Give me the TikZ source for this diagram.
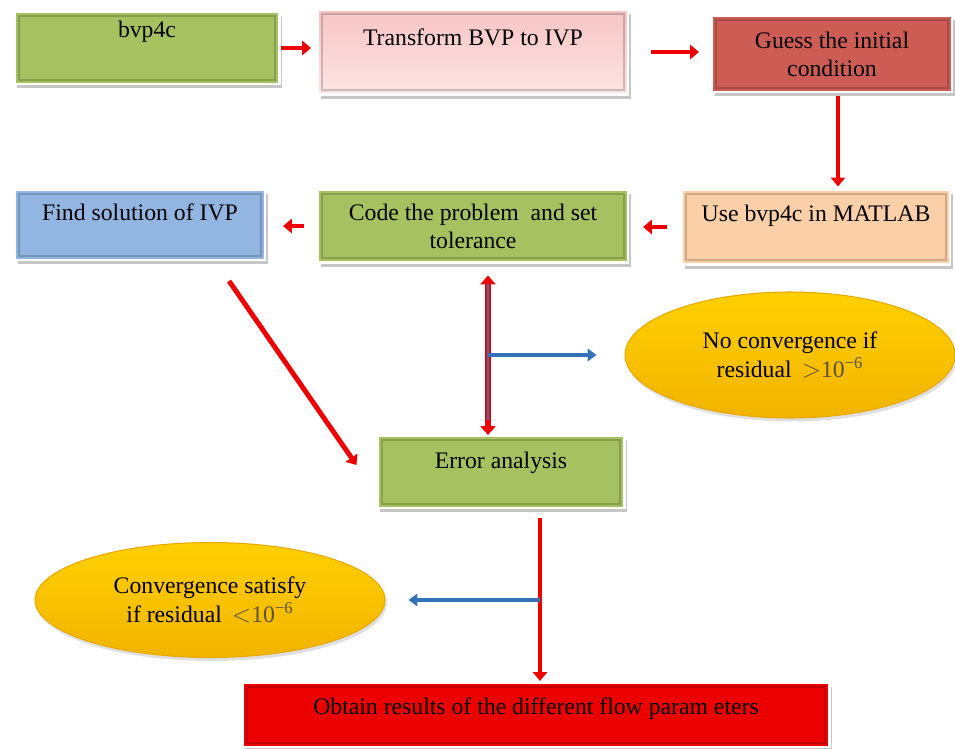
\documentclass[tikz,border=0pt]{standalone}
\usepackage{fontspec}
\setmainfont{Liberation Serif}
\usepackage{xcolor}
\usetikzlibrary{calc,
	positioning,
	shapes,
	shadows,
	arrows.meta}

\definecolor{boxgreen}{RGB}{166,193,96}
\definecolor{pinktop}{RGB}{247,196,196}
\definecolor{pinkbottom}{RGB}{253,228,228}
\definecolor{guessred}{RGB}{205,92,85}
\definecolor{peach}{RGB}{251,207,168}
\definecolor{boxblue}{RGB}{146,181,226}
\definecolor{resultred}{RGB}{236,0,0}
\definecolor{goldtop}{RGB}{255,208,0}
\definecolor{goldbottom}{RGB}{242,180,0}
\definecolor{goldedge}{RGB}{232,168,0}
\definecolor{arrowred}{RGB}{238,0,0}
\definecolor{arrowblue}{RGB}{52,113,184}
\definecolor{powgray}{RGB}{90,80,60}

\begin{document}
\begin{tikzpicture}[x=0.02cm, y=-0.02cm,
	box/.style={rectangle, draw=white, line width=1.2pt,
		font=\fontsize{13.5}{16}\selectfont,
		drop shadow={opacity=0.45, shadow xshift=1.5pt, shadow yshift=-2.5pt},
		path picture={\draw[black, opacity=0.18, line width=1.2pt]
			([shift={(2.5pt,-2.5pt)}]path picture bounding box.north west) rectangle
			([shift={(-2.5pt,2.5pt)}]path picture bounding box.south east);}},
	oneline/.style={text height=9pt, text depth=#1},
	oval/.style={ellipse, draw=goldedge, line width=0.6pt, align=center,
		top color=goldtop, bottom color=goldbottom,
		font=\fontsize{13.5}{17}\selectfont,
		drop shadow={opacity=0.25, shadow xshift=1pt, shadow yshift=-2pt}},
	redarrow/.style={draw=arrowred, line width=2.8pt, -{Triangle[width=8pt,length=5pt]}},
	bluearrow/.style={draw=arrowblue, line width=2.6pt, -{Triangle[width=7pt,length=5pt]}}]
	\useasboundingbox (0,0) rectangle (955,749);
	% first row
	\node[box, oneline=20.5pt, fill=boxgreen, minimum width=5.3cm, minimum height=1.44cm] (bvp) at (147,48) {bvp4c};
	\node[box, oneline=16.5pt, top color=pinktop, bottom color=pinkbottom, minimum width=6.2cm, minimum height=1.7cm] (trans) at (473,52) {Transform BVP to IVP};
	\node[box, align=center, fill=guessred, minimum width=4.8cm, minimum height=1.52cm] (guess) at (832,54) {Guess the initial\\condition};
	% second row
	\node[box, oneline=15.4pt, fill=peach, minimum width=5.36cm, minimum height=1.5cm] (use) at (816,227) {Use bvp4c in MATLAB};
	\node[box, align=center, fill=boxgreen, minimum width=6.2cm, minimum height=1.46cm] (code) at (473,226) {Code the problem\ \ and set\\tolerance};
	\node[box, oneline=13.7pt, fill=boxblue, minimum width=5cm, minimum height=1.4cm] (find) at (140,225) {Find solution of IVP};
	% error and result
	\node[box, oneline=12.5pt, fill=boxgreen, minimum width=4.94cm, minimum height=1.44cm] (error) at (501,472) {Error analysis};
	\node[box, oneline=10pt, fill=resultred, minimum width=11.74cm, minimum height=1.28cm] (obtain) at (536,715) {Obtain results of the different flow param eters};
	% convergence checks
	\node[oval, minimum width=6.6cm, minimum height=2.52cm] (nocon) at (790,355) {No convergence if\\residual {\color{powgray}$\,>$10\textsuperscript{−6}}};
	\node[oval, minimum width=7cm, minimum height=2.3cm] (con) at (210,600) {Convergence satisfy\\if residual {\color{powgray}$\,<$10\textsuperscript{−6}}};
	\coordinate (split) at (488,355);
	\coordinate (join) at (540,600);
	% arrows
	\draw[redarrow, shorten >=0.12cm] (bvp.east) -- (bvp.east -| trans.west);
	\draw[redarrow, shorten <=0.44cm, shorten >=0.24cm] (trans.east) -- (trans.east -| guess.west);
	\draw[redarrow, shorten <=0.06cm, shorten >=0.04cm] ([xshift=0.12cm]guess.south) -- ([xshift=0.12cm]guess.south |- use.north);
	\draw[redarrow, shorten <=0.28cm, shorten >=0.28cm] (use.west) -- (use.west -| code.east);
	\draw[redarrow, shorten <=0.26cm, shorten >=0.34cm] (code.west) -- (code.west -| find.east);
	\draw[redarrow] ([shift={(-0.74cm,-0.4cm)}]find.south east) -- ([shift={(-0.4cm,0.14cm)}]error.west);
	\draw[draw=arrowred, line width=3.4pt, {Triangle[width=8.5pt,length=5pt]}-{Triangle[width=8.5pt,length=5pt]}, shorten <=0.24cm] (code.south -| split) -- (error.north -| split);
	\draw[arrowblue, line width=0.9pt] ([yshift=-0.4cm]code.south -| split) -- ([yshift=0.3cm]error.north -| split);
	\draw[bluearrow, shorten >=0.56cm] (split) -- (nocon.west);
	\draw[redarrow, shorten <=0.18cm, shorten >=0.02cm] (error.south -| join) -- (obtain.north -| join);
	\draw[bluearrow, shorten >=0.46cm] (join) -- (con.east);
\end{tikzpicture}
\end{document}
